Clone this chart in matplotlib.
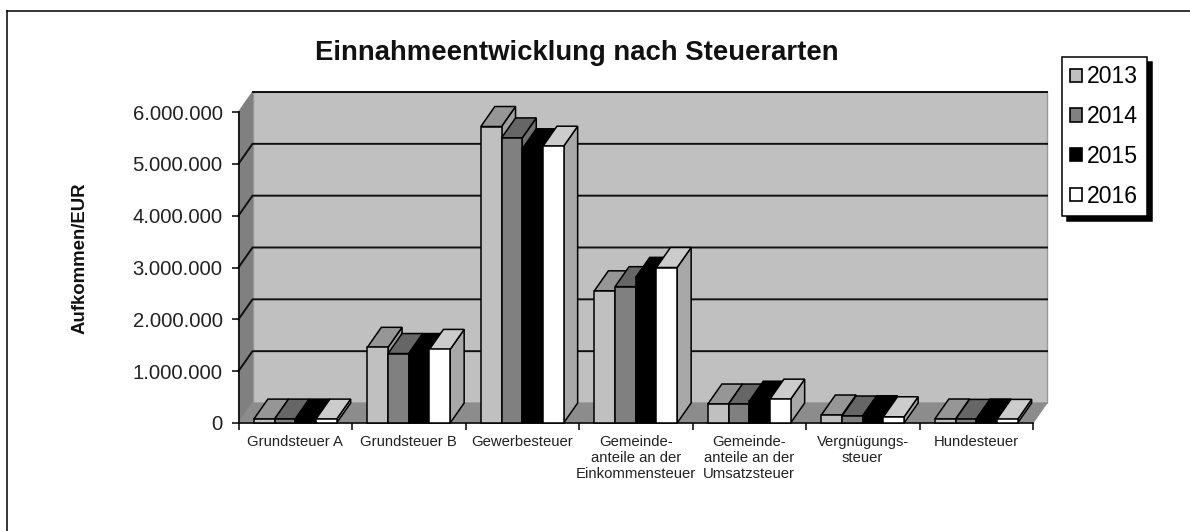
import matplotlib
matplotlib.use("Agg")
import matplotlib.pyplot as plt
from matplotlib.lines import Line2D
from matplotlib.patches import Patch, Polygon, Rectangle
from matplotlib.ticker import FuncFormatter

plt.rcParams["font.family"] = ["Liberation Sans", "DejaVu Sans"]

categories = [
    "Grundsteuer A", "Grundsteuer B", "Gewerbesteuer",
    "Gemeinde-\nanteile an der\nEinkommensteuer",
    "Gemeinde-\nanteile an der\nUmsatzsteuer",
    "Vergnügungs-\nsteuer", "Hundesteuer",
]
years = ["2013", "2014", "2015", "2016"]
v2013 = [75000, 1460000, 5720000, 2550000, 366000, 154000, 77000]
v2014 = [75000, 1340000, 5500000, 2630000, 366000, 135000, 70000]
v2015 = [75000, 1340000, 5290000, 2810000, 420000, 140000, 77000]
v2016 = [75000, 1420000, 5340000, 3000000, 460000, 120000, 70000]
series = [v2013, v2014, v2015, v2016]

face = ["#c0c0c0", "#808080", "#000000", "#ffffff"]
top = ["#969696", "#666666", "#000000", "#cccccc"]
side = ["#a0a0a0", "#707070", "#000000", "#a8a8a8"]

W, H = 1190, 531
fig = plt.figure(figsize=(W / 100, H / 100), dpi=100, facecolor="white")
L, R, B, T = 238.5, 1033, 423, 112
ax = fig.add_axes([L / W, 1 - B / H, (R - L) / W, (B - T) / H])
ax.set_xlim(0, len(categories))
ax.set_ylim(0, 6000000)
ax.patch.set_visible(False)
for s in ("top", "right"):
    ax.spines[s].set_visible(False)
for s in ("left", "bottom"):
    ax.spines[s].set_linewidth(1.1)
    ax.spines[s].set_zorder(1)

px_x = len(categories) / (R - L)
px_y = 6000000 / (B - T)
dx = 14 * px_x
dy = 20 * px_y
n = len(categories)
ymax = 6000000


def poly(pts, fc, ec="black", lw=1.1, z=1):
    ax.add_patch(Polygon(pts, closed=True, facecolor=fc, edgecolor=ec,
                         linewidth=lw, clip_on=False, zorder=z, joinstyle="miter"))


# walls and floor
poly([(dx, dy), (n + dx, dy), (n + dx, ymax + dy), (dx, ymax + dy)], "#c0c0c0", "#9a9a9a", 1.0, 0.5)
poly([(0, 0), (dx, dy), (dx, ymax + dy), (0, ymax)], "#808080", "#808080", 0.8, 0.6)
poly([(0, 0), (n, 0), (n + dx, dy), (dx, dy)], "#8c8c8c", "#8c8c8c", 0.8, 0.6)
ticks = list(range(0, ymax + 1, 1000000))
for t in ticks[1:-1]:
    ax.add_line(Line2D([0, dx, n + dx], [t, t + dy, t + dy], color="#101010", lw=1.4,
                       clip_on=False, zorder=0.8))
ax.add_line(Line2D([dx, n + dx], [ymax + dy, ymax + dy], color="#101010", lw=1.4,
                   clip_on=False, zorder=0.8))

# bars
bar_w = 20.7 * px_x
gap = (1 - 4 * bar_w) / 2
for c in range(n):
    for k, vals in enumerate(series):
        v = vals[c]
        x0 = c + gap + k * bar_w
        x1 = x0 + bar_w
        poly([(x1, 0), (x1 + dx, dy), (x1 + dx, v + dy), (x1, v)], side[k], z=2 + c + k * 0.1)
        poly([(x0, v), (x1, v), (x1 + dx, v + dy), (x0 + dx, v + dy)], top[k], z=2 + c + k * 0.1)
        ax.add_patch(Rectangle((x0, 0), bar_w, v, facecolor=face[k], edgecolor="black",
                               linewidth=1.1, clip_on=False, zorder=2.05 + c + k * 0.1))

ax.set_yticks(ticks)
ax.yaxis.set_major_formatter(FuncFormatter(lambda v, _: f"{int(v):,}".replace(",", ".")))
ax.tick_params(axis="y", labelsize=14.6, length=5, width=1.1, pad=6.5, labelcolor="#222222")
ax.set_xticks(range(n + 1))
ax.set_xticklabels([])
ax.tick_params(axis="x", which="major", length=5, width=1.1)
ax.set_xticks([i + 0.5 for i in range(n)], minor=True)
ax.set_xticklabels(categories, minor=True, fontsize=10.7, color="#222222", linespacing=1.17)
ax.tick_params(axis="x", which="minor", length=0, pad=8.5)

fig.text(576.5 / W, 1 - 53 / H, "Einnahmeentwicklung nach Steuerarten", ha="center", va="center",
         fontsize=19.8, fontweight="bold", color="#111111")
fig.text(80 / W, 1 - 258 / H, "Aufkommen/EUR", rotation=90, ha="center", va="center",
         fontsize=13.4, fontweight="bold", color="#111111")

# outer border (top and left edges only)
fig.add_artist(Line2D([6.5 / W, 1], [1 - 10.5 / H] * 2, color="black", lw=1.1))
fig.add_artist(Line2D([6.5 / W] * 2, [0, 1 - 10.5 / H], color="black", lw=1.1))

handles = [Patch(facecolor=f, edgecolor="black", linewidth=1.2) for f in face]
leg = ax.legend(handles, years, loc="upper left", bbox_to_anchor=(1062 / W, 1 - 57 / H),
                bbox_transform=fig.transFigure, borderaxespad=0, fontsize=16.6, fancybox=False,
                framealpha=1, edgecolor="black", handlelength=0.5, handleheight=0.5,
                handletextpad=0.24, labelspacing=0.73, borderpad=0.36,
                shadow={"ox": 3.6, "oy": -3.6, "color": "black", "alpha": 1, "shade": 0})
leg.get_frame().set_linewidth(1.1)
leg.set_zorder(50)

fig.savefig("out.png", dpi=100)
